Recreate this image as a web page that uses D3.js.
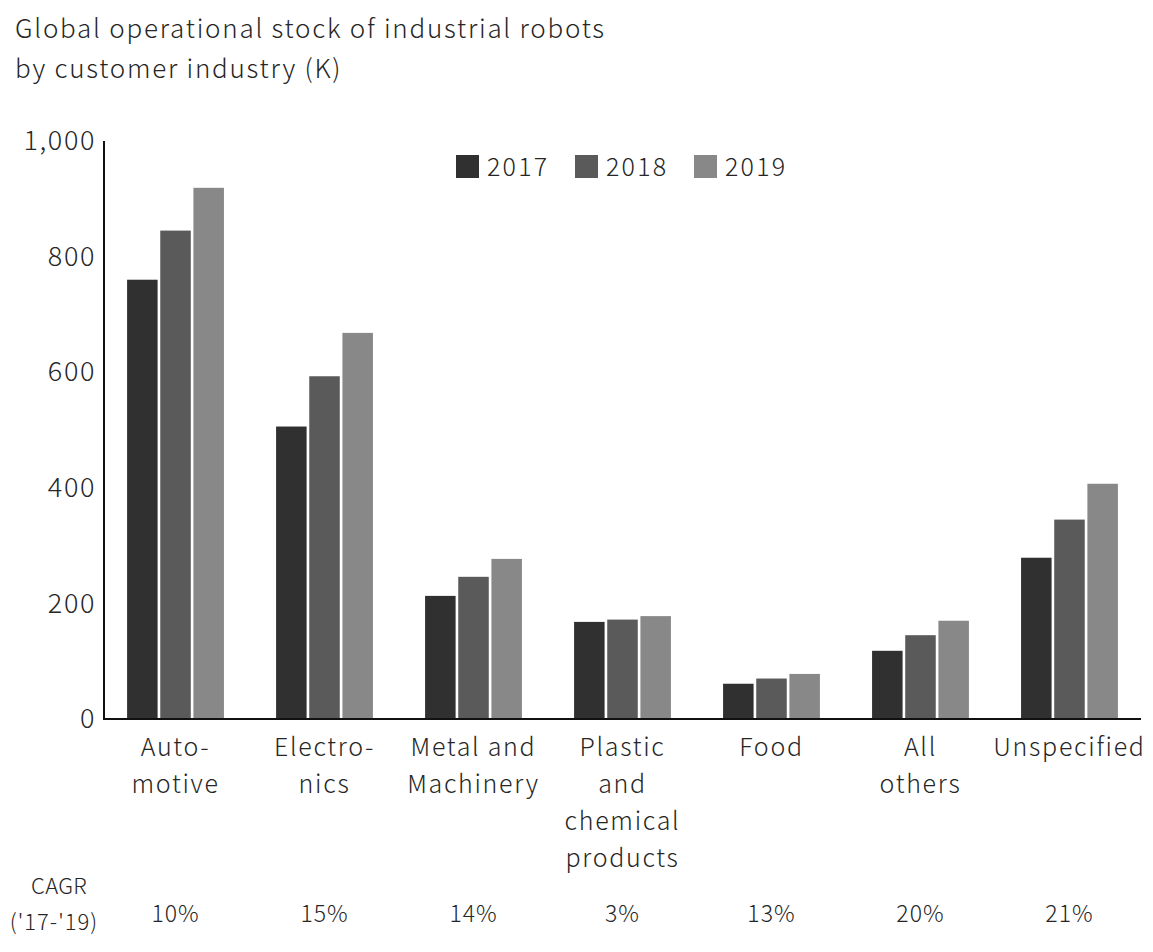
<!DOCTYPE html>
<html>
<head>
<meta charset="utf-8">
<script src="https://cdn.jsdelivr.net/npm/d3@7"></script>
<style>
  html, body { margin: 0; padding: 0; background: #ffffff; }
  svg text { font-family: "Noto Sans CJK JP", "Noto Sans", sans-serif; font-weight: 300; fill: #262626; }
</style>
</head>
<body>
<svg id="chart" width="1153" height="952"></svg>
<script>
// Operational stock of industrial robots (thousands), by customer industry
const categories = [
  ["Auto-", "motive"],
  ["Electro-", "nics"],
  ["Metal and", "Machinery"],
  ["Plastic", "and", "chemical", "products"],
  ["Food"],
  ["All", "others"],
  ["Unspecified"]
];
const years = ["2017", "2018", "2019"];
const values2017 = [760, 506, 213, 168, 61, 118, 279];
const values2018 = [845, 593, 246, 172, 70, 145, 345];
const values2019 = [919, 668, 277, 178, 78, 170, 407];
const cagr = ["10%", "15%", "14%", "3%", "13%", "20%", "21%"];
const yTicks = [0, 200, 400, 600, 800, 1000];
const colors = ["#303030", "#5a5a5a", "#888888"];

const series = [values2017, values2018, values2019];
const svg = d3.select("#chart");

const plotLeft = 104, plotRight = 1141, plotTop = 141, plotBottom = 719;

const x = d3.scaleBand()
  .domain(d3.range(categories.length))
  .range([plotLeft, plotRight])
  .paddingInner(0.35)
  .paddingOuter(0.155);

const xYear = d3.scaleBand()
  .domain(years)
  .range([0, x.bandwidth()])
  .paddingInner(0.08);

const y = d3.scaleLinear().domain([0, 1000]).range([plotBottom, plotTop]);

// Title
const title = svg.append("text").attr("x", 15).attr("y", 38)
  .style("font-size", "26px").style("letter-spacing", "1.75px");
title.append("tspan").attr("x", 15).text("Global operational stock of industrial robots");
title.append("tspan").attr("x", 15).attr("dy", 40).text("by customer industry (K)");

// Bars
const groups = svg.append("g").selectAll("g")
  .data(categories.map((c, i) => i))
  .join("g")
  .attr("transform", i => `translate(${x(i)},0)`);

groups.selectAll("rect")
  .data(i => years.map((yr, k) => ({ yr, k, v: series[k][i] })))
  .join("rect")
  .attr("x", d => xYear(d.yr))
  .attr("width", xYear.bandwidth())
  .attr("y", d => y(d.v))
  .attr("height", d => y(0) - y(d.v))
  .attr("fill", d => colors[d.k]);

// Y axis
const yAxis = d3.axisLeft(y)
  .tickValues(yTicks)
  .tickFormat(d3.format(","))
  .tickSize(0)
  .tickPadding(8);

const gy = svg.append("g").attr("transform", `translate(${plotLeft},0)`).call(yAxis);
gy.select(".domain").remove();
gy.selectAll("text")
  .style("font-size", "27px")
  .style("letter-spacing", "1.6px")
  .attr("fill", "#262626");

svg.append("line")
  .attr("x1", plotLeft).attr("x2", plotLeft)
  .attr("y1", plotTop).attr("y2", plotBottom + 1)
  .attr("stroke", "#111").attr("stroke-width", 2);

// X axis line
svg.append("line")
  .attr("x1", plotLeft - 1).attr("x2", plotRight)
  .attr("y1", plotBottom).attr("y2", plotBottom)
  .attr("stroke", "#111").attr("stroke-width", 2);

// Category labels
const catLabels = svg.append("g").selectAll("text")
  .data(categories)
  .join("text")
  .attr("text-anchor", "middle")
  .attr("y", 756)
  .style("font-size", "25px")
  .style("letter-spacing", "1.7px");

catLabels.selectAll("tspan")
  .data((lines, i) => lines.map(l => ({ l, i })))
  .join("tspan")
  .attr("x", d => x(d.i) + x.bandwidth() / 2)
  .attr("dy", (d, j) => j === 0 ? 0 : 37)
  .text(d => d.l);

// CAGR row
const cagrLabel = svg.append("text").attr("text-anchor", "middle").attr("y", 894)
  .style("font-size", "22px");
cagrLabel.append("tspan").attr("x", 59).style("letter-spacing", "0.3px").text("CAGR");
cagrLabel.append("tspan").attr("x", 54).attr("dy", 36).style("letter-spacing", "1px").text("('17-'19)");

svg.append("g").selectAll("text")
  .data(cagr)
  .join("text")
  .attr("text-anchor", "middle")
  .attr("x", (d, i) => x(i) + x.bandwidth() / 2)
  .attr("y", 922)
  .style("font-size", "23px")
  .style("letter-spacing", "1px")
  .text(d => d);

// Legend
const legend = svg.append("g").selectAll("g")
  .data(years)
  .join("g")
  .attr("transform", (d, i) => `translate(${456 + i * 119},155)`);

legend.append("rect")
  .attr("width", 23).attr("height", 23)
  .attr("fill", (d, i) => colors[i]);

legend.append("text")
  .attr("x", 31).attr("y", 21)
  .style("font-size", "25px")
  .style("letter-spacing", "2.2px")
  .text(d => d);
</script>
</body>
</html>
